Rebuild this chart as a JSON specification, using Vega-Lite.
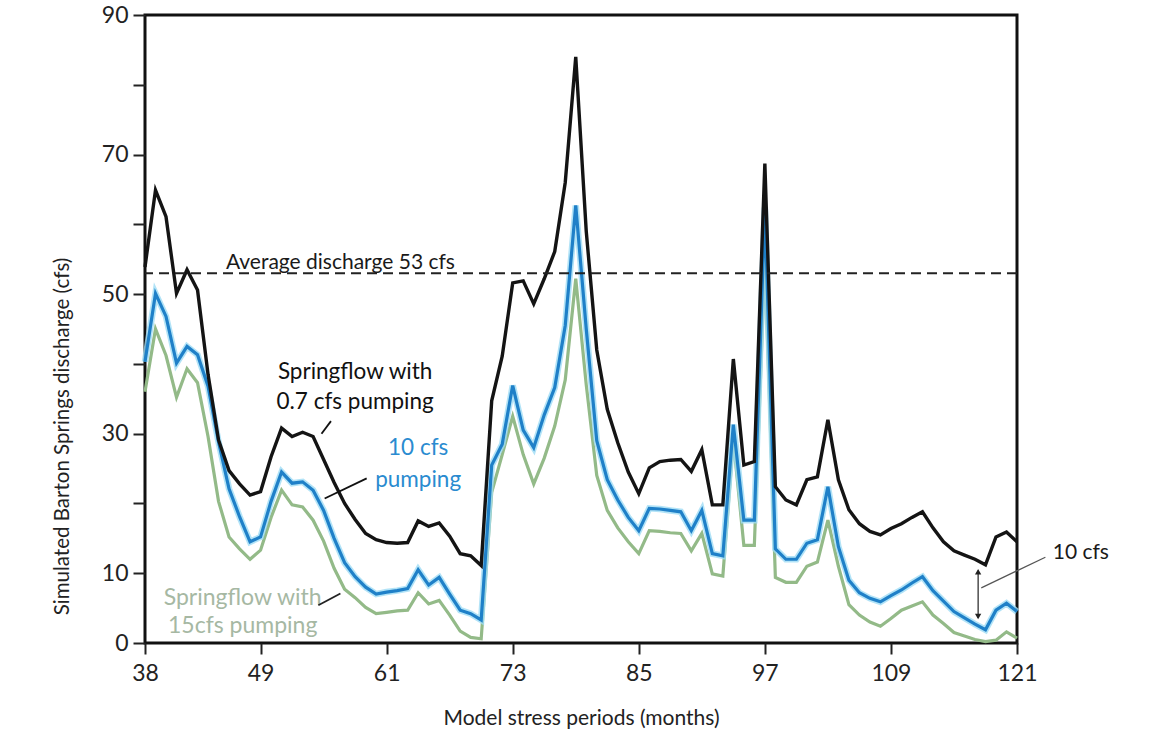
{
  "$schema": "https://vega.github.io/schema/vega-lite/v6.json",
  "width": 872,
  "height": 628,
  "autosize": {"type": "none"},
  "padding": {"left": 145, "top": 15, "right": 138, "bottom": 111},
  "background": "white",
  "config": {
    "view": {"stroke": "#111111", "strokeWidth": 3},
    "font": "Lato",
    "text": {"font": "Lato"}
  },
  "data": {"values": [
    {"m":38,"a":53.9,"b":40.3,"c":36},
    {"m":39,"a":64.9,"b":50.1,"c":45},
    {"m":40,"a":61.1,"b":46.8,"c":41.2},
    {"m":41,"a":50.1,"b":40.1,"c":35.2},
    {"m":42,"a":53.5,"b":42.5,"c":39.3},
    {"m":43,"a":50.6,"b":41.3,"c":37.3},
    {"m":44,"a":38.5,"b":36.8,"c":29.6},
    {"m":45,"a":29.1,"b":28.8,"c":20.3},
    {"m":46,"a":24.7,"b":22.1,"c":15.2},
    {"m":47,"a":22.8,"b":18.1,"c":13.5},
    {"m":48,"a":21.2,"b":14.5,"c":12.0},
    {"m":49,"a":21.7,"b":15.2,"c":13.3},
    {"m":50,"a":26.7,"b":20.3,"c":18.0},
    {"m":51,"a":30.8,"b":24.5,"c":21.9},
    {"m":52,"a":29.6,"b":22.9,"c":19.8},
    {"m":53,"a":30.2,"b":23.1,"c":19.5},
    {"m":54,"a":29.6,"b":21.9,"c":17.6},
    {"m":55,"a":26.3,"b":19.0,"c":14.6},
    {"m":56,"a":23.0,"b":15.0,"c":10.7},
    {"m":57,"a":20.0,"b":11.5,"c":7.7},
    {"m":58,"a":17.7,"b":9.5,"c":6.5},
    {"m":59,"a":15.7,"b":8.0,"c":5.1},
    {"m":60,"a":14.8,"b":7.0,"c":4.2},
    {"m":61,"a":14.4,"b":7.3,"c":4.4},
    {"m":62,"a":14.3,"b":7.5,"c":4.6},
    {"m":63,"a":14.4,"b":7.8,"c":4.7},
    {"m":64,"a":17.5,"b":10.5,"c":7.2},
    {"m":65,"a":16.7,"b":8.3,"c":5.6},
    {"m":66,"a":17.2,"b":9.4,"c":6.1},
    {"m":67,"a":15.3,"b":7.0,"c":4.0},
    {"m":68,"a":12.8,"b":4.7,"c":1.7},
    {"m":69,"a":12.5,"b":4.2,"c":0.8},
    {"m":70,"a":11.1,"b":3.3,"c":0.6},
    {"m":71,"a":34.7,"b":25.5,"c":21.6},
    {"m":72,"a":41.1,"b":28.5,"c":27.0},
    {"m":73,"a":51.6,"b":36.9,"c":32.5},
    {"m":74,"a":51.9,"b":30.5,"c":27.0},
    {"m":75,"a":48.6,"b":28.0,"c":22.8},
    {"m":76,"a":52.2,"b":32.7,"c":26.5},
    {"m":77,"a":56.1,"b":36.6,"c":31.1},
    {"m":78,"a":66.0,"b":45.5,"c":37.7},
    {"m":79,"a":84.0,"b":62.7,"c":52.2},
    {"m":80,"a":59.0,"b":45.0,"c":37.0},
    {"m":81,"a":42.0,"b":29.0,"c":24.0},
    {"m":82,"a":33.5,"b":23.4,"c":19.0},
    {"m":83,"a":28.7,"b":20.5,"c":16.5},
    {"m":84,"a":24.5,"b":18.0,"c":14.5},
    {"m":85,"a":21.4,"b":16.1,"c":12.8},
    {"m":86,"a":25.1,"b":19.3,"c":16.1},
    {"m":87,"a":26.0,"b":19.2,"c":16.0},
    {"m":88,"a":26.2,"b":19.0,"c":15.8},
    {"m":89,"a":26.3,"b":18.8,"c":15.7},
    {"m":90,"a":24.6,"b":16.1,"c":13.2},
    {"m":91,"a":27.7,"b":19.0,"c":15.7},
    {"m":92,"a":19.8,"b":12.8,"c":9.9},
    {"m":93,"a":19.8,"b":12.5,"c":9.6},
    {"m":94,"a":40.7,"b":31.3,"c":29.1},
    {"m":95,"a":25.5,"b":17.6,"c":14.0},
    {"m":96,"a":26.0,"b":17.6,"c":14.0},
    {"m":97,"a":68.7,"b":62.4,"c":55.0},
    {"m":98,"a":22.4,"b":13.5,"c":9.4},
    {"m":99,"a":20.5,"b":12.0,"c":8.7},
    {"m":100,"a":19.8,"b":12.0,"c":8.7},
    {"m":101,"a":23.4,"b":14.3,"c":11.0},
    {"m":102,"a":23.8,"b":14.8,"c":11.6},
    {"m":103,"a":32.0,"b":22.4,"c":17.6},
    {"m":104,"a":23.4,"b":13.8,"c":11.0},
    {"m":105,"a":19.1,"b":9.0,"c":5.5},
    {"m":106,"a":17.1,"b":7.2,"c":4.0},
    {"m":107,"a":16.0,"b":6.4,"c":3.0},
    {"m":108,"a":15.5,"b":5.9,"c":2.4},
    {"m":109,"a":16.4,"b":6.8,"c":3.5},
    {"m":110,"a":17.1,"b":7.6,"c":4.7},
    {"m":111,"a":18.0,"b":8.6,"c":5.3},
    {"m":112,"a":18.8,"b":9.5,"c":5.9},
    {"m":113,"a":16.5,"b":7.5,"c":4.0},
    {"m":114,"a":14.5,"b":6.0,"c":2.8},
    {"m":115,"a":13.2,"b":4.5,"c":1.5},
    {"m":116,"a":12.6,"b":3.6,"c":1.0},
    {"m":117,"a":12.0,"b":2.7,"c":0.5},
    {"m":118,"a":11.2,"b":1.9,"c":0.2},
    {"m":119,"a":15.2,"b":4.7,"c":0.4},
    {"m":120,"a":15.9,"b":5.7,"c":1.6},
    {"m":121,"a":14.5,"b":4.5,"c":0.7}
  ]},
  "layer": [
    {
      "mark": {"type": "line", "color": "#93ba88", "strokeWidth": 3.2},
      "encoding": {
        "x": {"field": "m", "type": "quantitative", "scale": {"domain": [38, 121], "nice": false, "zero": false},
          "axis": {"values": [38, 49, 61, 73, 85, 97, 109, 121], "title": "Model stress periods (months)", "grid": false, "domain": false,
            "tickSize": 11, "tickWidth": 2, "tickColor": "#222222", "labelFontSize": 23, "labelPadding": 8, "labelColor": "#222222",
            "labelFlush": false, "titleFontSize": 21, "titleFontWeight": "normal", "titleColor": "#222222", "titlePadding": 22}},
        "y": {"field": "c", "type": "quantitative", "scale": {"domain": [0, 90], "nice": false}, "title": "Simulated Barton Springs discharge (cfs)",
          "axis": {"values": [0, 10, 20, 30, 40, 50, 60, 70, 80, 90], "labelExpr": "datum.value == 0 || datum.value % 20 == 10 ? datum.label : ''",
            "grid": false, "domain": false, "tickSize": 12, "tickWidth": 2, "tickColor": "#222222", "labelFontSize": 23, "labelPadding": 5,
            "labelColor": "#222222", "labelFlush": false, "titleFontSize": 20.5, "titleFontWeight": "normal", "titleColor": "#222222",
            "titleX": -83, "titleY": 421, "titleAnchor": "middle", "titleBaseline": "middle"}}
      }
    },
    {
      "mark": {"type": "line", "color": "#9fdcf5", "strokeWidth": 6.5, "opacity": 0.8},
      "encoding": {"x": {"field": "m", "type": "quantitative"}, "y": {"field": "b", "type": "quantitative", "title": "Simulated Barton Springs discharge (cfs)"}}
    },
    {
      "mark": {"type": "line", "color": "#1f80c8", "strokeWidth": 3.2},
      "encoding": {"x": {"field": "m", "type": "quantitative"}, "y": {"field": "b", "type": "quantitative", "title": "Simulated Barton Springs discharge (cfs)"}}
    },
    {
      "mark": {"type": "line", "color": "#141414", "strokeWidth": 3.4},
      "encoding": {"x": {"field": "m", "type": "quantitative"}, "y": {"field": "a", "type": "quantitative", "title": "Simulated Barton Springs discharge (cfs)"}}
    },
    {
      "data": {"values": [{}]},
      "mark": {"type": "rule", "color": "#222222", "strokeWidth": 2, "strokeDash": [10, 6]},
      "encoding": {"y": {"datum": 53}}
    },
    {
      "data": {"values": [{}]},
      "mark": {"type": "text", "text": "Average discharge 53 cfs", "align": "left", "baseline": "alphabetic", "fontSize": 21, "color": "#1a1a1a"},
      "encoding": {"x": {"datum": 45.7}, "y": {"datum": 53.6}}
    },
    {
      "data": {"values": [{}]},
      "mark": {"type": "text", "text": ["Springflow with", "0.7 cfs pumping"], "align": "center", "baseline": "middle", "fontSize": 22.5, "lineHeight": 30, "color": "#111111"},
      "encoding": {"x": {"datum": 58.0}, "y": {"datum": 38.8}}
    },
    {
      "data": {"values": [{}]},
      "mark": {"type": "text", "text": ["10 cfs", "pumping"], "align": "center", "baseline": "middle", "fontSize": 22.5, "lineHeight": 32, "color": "#2a8bd0"},
      "encoding": {"x": {"datum": 64.0}, "y": {"datum": 27.9}}
    },
    {
      "data": {"values": [{}]},
      "mark": {"type": "text", "text": ["Springflow with", "15cfs pumping"], "align": "center", "baseline": "middle", "fontSize": 23, "lineHeight": 28, "color": "#a6b8a3"},
      "encoding": {"x": {"datum": 47.3}, "y": {"datum": 6.4}}
    },
    {
      "data": {"values": [{}]},
      "mark": {"type": "text", "text": "10 cfs", "align": "left", "baseline": "middle", "fontSize": 21, "color": "#1a1a1a"},
      "encoding": {"x": {"datum": 124.4}, "y": {"datum": 12.9}}
    },
    {
      "data": {"values": [{}]},
      "mark": {"type": "rule", "color": "#111111", "strokeWidth": 1.8},
      "encoding": {"x": {"datum": 54.8}, "y": {"datum": 30.0}, "x2": {"datum": 55.7}, "y2": {"datum": 31.8}}
    },
    {
      "data": {"values": [{}]},
      "mark": {"type": "rule", "color": "#111111", "strokeWidth": 1.8},
      "encoding": {"x": {"datum": 55.1}, "y": {"datum": 20.7}, "x2": {"datum": 59.1}, "y2": {"datum": 23.6}}
    },
    {
      "data": {"values": [{}]},
      "mark": {"type": "rule", "color": "#222222", "strokeWidth": 1.8},
      "encoding": {"x": {"datum": 54.5}, "y": {"datum": 5.4}, "x2": {"datum": 56.6}, "y2": {"datum": 7.1}}
    },
    {
      "data": {"values": [{}]},
      "mark": {"type": "rule", "color": "#555555", "strokeWidth": 1.2},
      "encoding": {"x": {"datum": 117.6}, "y": {"datum": 7.9}, "x2": {"datum": 123.7}, "y2": {"datum": 12.3}}
    },
    {
      "data": {"values": [{}]},
      "mark": {"type": "rule", "color": "#222222", "strokeWidth": 1.2},
      "encoding": {"x": {"datum": 117.3}, "y": {"datum": 10.4}, "y2": {"datum": 3.6}}
    },
    {
      "data": {"values": [{}]},
      "mark": {"type": "point", "shape": "triangle-up", "filled": true, "color": "#222222", "size": 40, "opacity": 1},
      "encoding": {"x": {"datum": 117.3}, "y": {"datum": 10.2}}
    },
    {
      "data": {"values": [{}]},
      "mark": {"type": "point", "shape": "triangle-down", "filled": true, "color": "#222222", "size": 40, "opacity": 1},
      "encoding": {"x": {"datum": 117.3}, "y": {"datum": 3.8}}
    }
  ]
}
